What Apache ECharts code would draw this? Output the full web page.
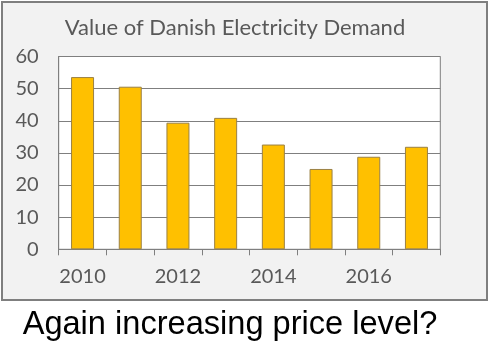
<!DOCTYPE html>
<html>
<head>
<meta charset="utf-8">
<script src="https://cdn.jsdelivr.net/npm/echarts@6/dist/echarts.min.js"></script>
<style>
html,body{margin:0;padding:0;background:#fff;}
#chart{width:489px;height:351px;}
</style>
</head>
<body>
<div id="chart"></div>
<script>
// data
var years = ['2010', '2011', '2012', '2013', '2014', '2015', '2016', '2017'];
var demandValue = [53.6, 50.6, 39.4, 40.9, 32.6, 25.0, 28.8, 31.9];
var yTicks = [0, 10, 20, 30, 40, 50, 60];

var chartTitle = 'Value of Danish Electricity Demand';
var caption = 'Again increasing price level?';

var myChart = echarts.init(document.getElementById('chart'));

var option = {
    animation: false,
    graphic: [
        {
            type: 'rect',
            z: -10,
            shape: {x: 2, y: 2, width: 485, height: 298},
            style: {fill: '#f2f2f2', stroke: '#7f7f7f', lineWidth: 2}
        }
    ],
    title: [
        {
            text: chartTitle,
            left: 230,
            textAlign: 'center',
            top: 12,
            textStyle: {
                fontFamily: 'Lato',
                fontWeight: 'normal',
                fontSize: 22,
                color: '#595959'
            }
        },
        {
            text: caption,
            left: 225,
            textAlign: 'center',
            top: 304,
            textStyle: {
                fontFamily: 'Liberation Sans',
                fontWeight: 'normal',
                fontSize: 32.6,
                color: '#000'
            }
        }
    ],
    grid: {
        left: 58.7,
        right: 48.7,
        top: 56.5,
        bottom: 101.7,
        show: true,
        backgroundColor: '#fff',
        borderColor: '#7f7f7f',
        borderWidth: 1
    },
    xAxis: {
        type: 'category',
        data: years,
        axisLine: {show: true, lineStyle: {color: '#7f7f7f', width: 1}},
        axisTick: {show: true, interval: 0, length: 6, lineStyle: {color: '#7f7f7f'}},
        axisLabel: {
            interval: 1,
            margin: 17,
            fontFamily: 'Lato',
            fontSize: 20,
            color: '#595959'
        },
        splitLine: {show: false}
    },
    yAxis: {
        type: 'value',
        min: yTicks[0],
        max: yTicks[yTicks.length - 1],
        interval: yTicks[1] - yTicks[0],
        axisLine: {show: true, lineStyle: {color: '#7f7f7f'}},
        axisTick: {show: false},
        axisLabel: {
            margin: 20,
            fontFamily: 'Lato',
            fontSize: 20,
            color: '#595959'
        },
        splitLine: {show: true, lineStyle: {color: '#7f7f7f', width: 1}}
    },
    series: [
        {
            type: 'bar',
            data: demandValue,
            barWidth: 23,
            itemStyle: {
                color: '#ffc000',
                borderColor: '#9a8045',
                borderWidth: 1
            }
        }
    ]
};

myChart.setOption(option);
</script>
</body>
</html>
